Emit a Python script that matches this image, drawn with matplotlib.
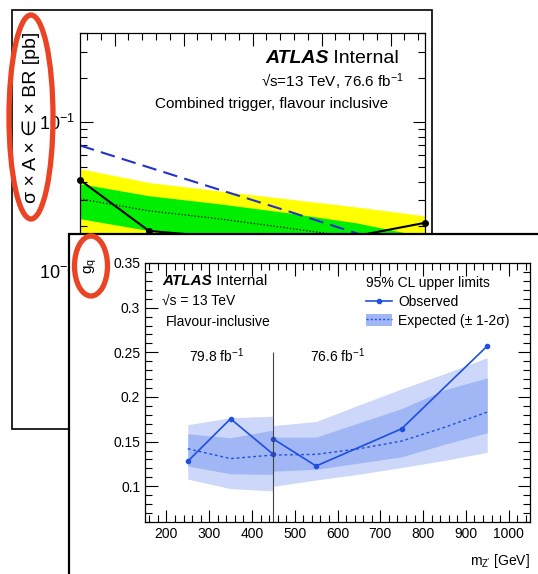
import matplotlib
matplotlib.use("Agg")
import matplotlib.pyplot as plt
from matplotlib.patches import Rectangle, Ellipse, Patch
from matplotlib.lines import Line2D
from matplotlib.ticker import MultipleLocator, NullFormatter, FormatStrFormatter

plt.rcParams['font.family'] = ['Liberation Sans', 'DejaVu Sans']
plt.rcParams['mathtext.fontset'] = 'custom'
plt.rcParams['mathtext.rm'] = 'Liberation Sans'
plt.rcParams['mathtext.it'] = 'Liberation Sans:italic'
plt.rcParams['mathtext.bf'] = 'Liberation Sans:bold'

# back plot: sigma x A x eff x BR limits [pb], 76.6 fb-1, combined trigger
mass_back = [450, 550, 650, 750, 850, 950]
obs_back = [0.041, 0.0186, 0.0170, 0.0165, 0.0172, 0.0211]
exp_back = [0.0306, 0.0254, 0.0225, 0.0195, 0.0168, 0.0141]
s1_hi_back = [0.0387, 0.0321, 0.0284, 0.0247, 0.0211, 0.0170]
s1_lo_back = [0.0225, 0.0187, 0.0165, 0.0143, 0.0123, 0.0104]
s2_hi_back = [0.0488, 0.0394, 0.0347, 0.0306, 0.0270, 0.0235]
s2_lo_back = [0.0160, 0.0135, 0.0120, 0.0104, 0.0090, 0.0076]
theory_back = [0.070, 0.0498, 0.0355, 0.0254, 0.018, 0.0128]

# front plot: g_q limits, two luminosity regions split at 450 GeV
mass_l = [250, 350, 450]
obs_l = [0.128, 0.1756, 0.1357]
exp_l = [0.142, 0.131, 0.135]
s1_hi_l = [0.1588, 0.1543, 0.163]
s1_lo_l = [0.1227, 0.114, 0.1134]
s2_hi_l = [0.169, 0.1767, 0.1785]
s2_lo_l = [0.108, 0.0974, 0.0948]

mass_r = [450, 550, 650, 750, 850, 950]
exp_r = [0.135, 0.1357, 0.142, 0.1506, 0.166, 0.183]
s1_hi_r = [0.155, 0.155, 0.171, 0.187, 0.208, 0.2213]
s1_lo_r = [0.117, 0.119, 0.126, 0.133, 0.147, 0.160]
s2_hi_r = [0.168, 0.1725, 0.191, 0.209, 0.226, 0.244]
s2_lo_r = [0.100, 0.107, 0.1135, 0.121, 0.129, 0.138]
mass_obs_r = [450, 550, 750, 950]
obs_r = [0.153, 0.1227, 0.1644, 0.257]

split_mass = 450
split_top = 0.25
lumi_labels = [(318, r'79.8 fb$^{-1}$'), (600, r'76.6 fb$^{-1}$')]

W, H = 538, 574
fig = plt.figure(figsize=(W / 100, H / 100), dpi=100)


def box(x0, y0, x1, y1):
    # pixel box from top-left corner -> figure fraction rect
    return [x0 / W, 1 - y1 / H, (x1 - x0) / W, (y1 - y0) / H]


def frame(x0, y0, x1, y1, z, lw):
    r = Rectangle((x0 / W, 1 - y1 / H), (x1 - x0) / W, (y1 - y0) / H,
                  transform=fig.transFigure, fc='white', ec='black', lw=lw, zorder=z)
    fig.add_artist(r)


def ring(cx, cy, w, h):
    e = Ellipse((cx / W, 1 - cy / H), w / W, h / H, transform=fig.transFigure,
                fill=False, ec='#ea4424', lw=3.8, zorder=10)
    fig.add_artist(e)


def atlas(ax, x, y, size):
    t = ax.text(x, y, 'ATLAS', transform=ax.transAxes, fontsize=size,
                fontweight='bold', fontstyle='italic', va='baseline')
    ax.annotate(' Internal', xy=(1, 0), xycoords=t, fontsize=size, va='bottom')


# ---------------- back panel ----------------
frame(12, 10, 432, 429, 1, 1.2)
ax1 = fig.add_axes(box(80, 33, 425, 271), zorder=2)
ax1.set_yscale('log')
ax1.fill_between(mass_back, s2_lo_back, s2_hi_back, color='#ffff00', lw=0)
ax1.fill_between(mass_back, s1_lo_back, s1_hi_back, color='#00ee00', lw=0)
ax1.plot(mass_back, exp_back, color='black', ls=':', lw=0.9)
ax1.plot(mass_back, theory_back, color='#2233cc', ls=(0, (7, 3.5)), lw=1.5)
ax1.plot(mass_back, obs_back, color='black', lw=1.5, marker='o', ms=4, clip_on=False)
ax1.set_xlim(450, 950)
ax1.set_ylim(0.01, 0.4)
ax1.xaxis.set_major_locator(MultipleLocator(100))
ax1.xaxis.set_minor_locator(MultipleLocator(20))
ax1.yaxis.set_minor_formatter(NullFormatter())
ax1.tick_params(which='both', direction='in', top=True, right=True, labelsize=13, width=0.8)
ax1.tick_params(which='major', length=9)
ax1.tick_params(which='minor', length=5)
for s in ax1.spines.values():
    s.set_linewidth(0.9)
atlas(ax1, 0.536, 0.874, 14)
ax1.text(0.939, 0.772, r'√s=13 TeV, 76.6 fb$^{-1}$', transform=ax1.transAxes,
         fontsize=11, ha='right', va='baseline')
ax1.text(0.217, 0.685, 'Combined trigger, flavour inclusive', transform=ax1.transAxes,
         fontsize=11, va='baseline')
fig.text(31 / W, 1 - 117 / H, 'σ × A × ∈ × BR [pb]', rotation=90,
         ha='center', va='center', fontsize=14, zorder=2.5)

# ---------------- front panel ----------------
frame(69, 234, 560, 600, 3, 1.6)
ax2 = fig.add_axes(box(145, 263, 530, 522), zorder=4)
light = '#ccd7f9'
dark = '#a0b6f5'
blue = '#1f4fe0'
for m, lo2, hi2, lo1, hi1, ex in [(mass_l, s2_lo_l, s2_hi_l, s1_lo_l, s1_hi_l, exp_l),
                                  (mass_r, s2_lo_r, s2_hi_r, s1_lo_r, s1_hi_r, exp_r)]:
    ax2.fill_between(m, lo2, hi2, color=light, lw=0)
    ax2.fill_between(m, lo1, hi1, color=dark, lw=0)
    ax2.plot(m, ex, color=blue, ls=(0, (2, 2)), lw=1)
ax2.plot(mass_l, obs_l, color=blue, lw=1.2, marker='o', ms=3)
ax2.plot(mass_obs_r, obs_r, color=blue, lw=1.2, marker='o', ms=3)
ax2.vlines(split_mass, 0.06, split_top, color='#444444', lw=0.8)
for xm, lab in lumi_labels:
    ax2.text(xm, 0.2395, lab, ha='center', va='baseline', fontsize=10)

ax2.set_xlim(150, 1050)
ax2.set_ylim(0.06, 0.35)
ax2.xaxis.set_major_locator(MultipleLocator(100))
ax2.xaxis.set_minor_locator(MultipleLocator(20))
ax2.yaxis.set_major_locator(MultipleLocator(0.05))
ax2.yaxis.set_minor_locator(MultipleLocator(0.01))
ax2.yaxis.set_major_formatter(FormatStrFormatter('%g'))
ax2.tick_params(which='both', direction='in', top=True, right=True, labelsize=10, width=0.8)
ax2.tick_params(which='major', length=9)
ax2.tick_params(which='minor', length=5)
for s in ax2.spines.values():
    s.set_linewidth(0.9)

atlas(ax2, 0.044, 0.915, 11)
ax2.text(0.044, 0.834, '√s = 13 TeV', transform=ax2.transAxes, fontsize=10, va='baseline')
ax2.text(0.055, 0.758, 'Flavour-inclusive', transform=ax2.transAxes, fontsize=10, va='baseline')

ax2.set_xlabel(r"m$_{\mathrm{Z'}}$ [GeV]", fontsize=10, loc='right')
ax2.xaxis.set_label_coords(1.0, -0.116)
ax2.set_ylabel(r'g$_{\mathrm{q}}$', fontsize=11)
ax2.yaxis.set_label_coords(-0.12, 0.99)

handles = [Line2D([], [], color=blue, lw=1.2, marker='o', ms=3),
           (Patch(facecolor=dark, edgecolor='none'),
            Line2D([], [], color=blue, ls=(0, (1.5, 1.5)), lw=1))]
ax2.legend(handles, ['Observed', 'Expected (± 1-2σ)'], title='95% CL upper limits',
           alignment='left', loc='upper left', bbox_to_anchor=(366 / W, 1 - 276 / H),
           bbox_transform=fig.transFigure, frameon=False, fontsize=10, title_fontsize=10,
           handlelength=1.9, handleheight=0.9, handletextpad=0.4, labelspacing=0.35,
           borderpad=0, borderaxespad=0)

# red highlight rings
ring(31, 117, 44, 204)
ring(91, 266, 33, 60)

fig.savefig('out.png', dpi=100)
